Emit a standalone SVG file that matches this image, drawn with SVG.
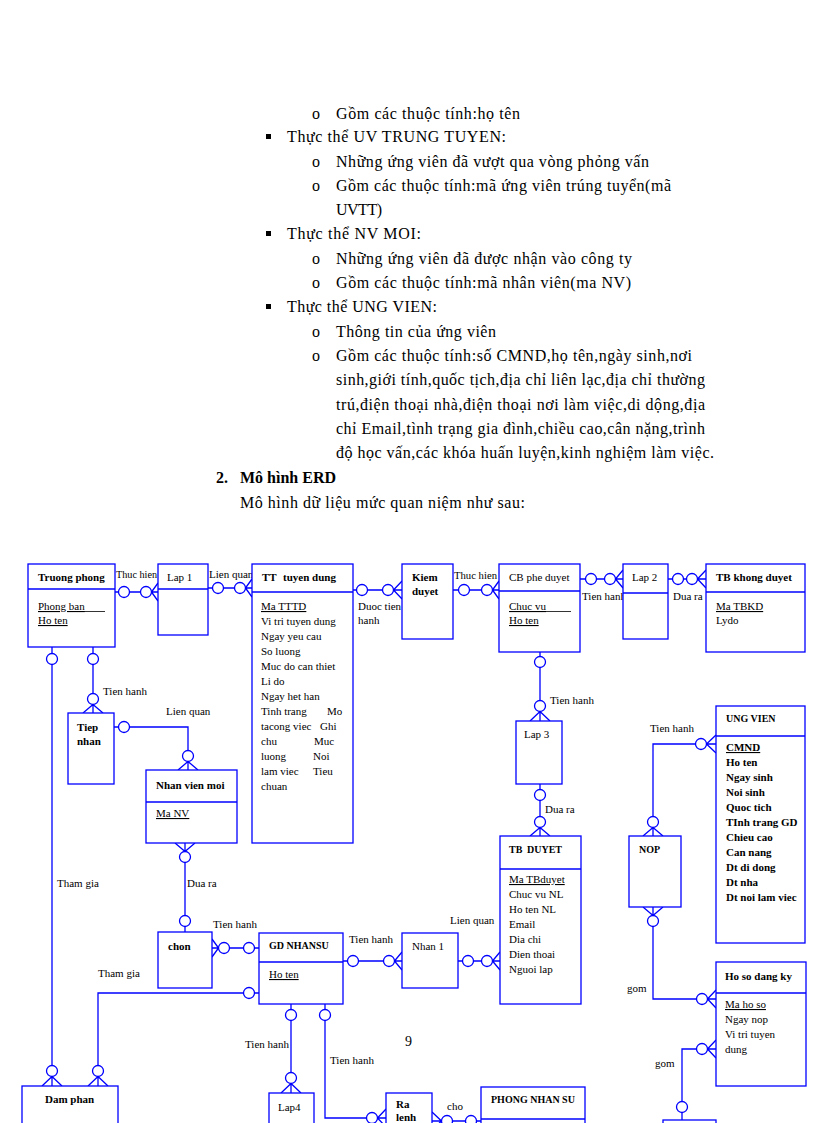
<svg xmlns="http://www.w3.org/2000/svg" width="816" height="1123" viewBox="0 0 816 1123">
<style>
.pt{font-family:"Liberation Serif","Times New Roman",serif;font-size:16px;fill:#000}
.t{font-family:"Liberation Serif","Times New Roman",serif;font-size:11px;fill:#000}
.b{font-weight:bold}
.s{font-size:10px}
.u{text-decoration:underline}
.e{fill:#fff;stroke:#0000ff;stroke-width:1.3}
.d{fill:none;stroke:#0000ff;stroke-width:1.3}
.l{fill:none;stroke:#0000ff;stroke-width:1.3}
.c{fill:#fff;stroke:#0000ff;stroke-width:1.3}
</style>
<rect width="816" height="1123" fill="#fff"/>
<g id="page-text">
<text class="pt" x="312" y="119">o</text>
<text class="pt" x="336" y="119" textLength="184" lengthAdjust="spacing">Gồm các thuộc tính:họ tên</text>
<rect x="266" y="134" width="5" height="5" fill="#000"/>
<text class="pt" x="287" y="142" textLength="219" lengthAdjust="spacing">Thực thể UV TRUNG TUYEN:</text>
<text class="pt" x="312" y="167">o</text>
<text class="pt" x="336" y="167" textLength="313" lengthAdjust="spacing">Những ứng viên đã vượt qua vòng phỏng vấn</text>
<text class="pt" x="312" y="191">o</text>
<text class="pt" x="336" y="191" textLength="335" lengthAdjust="spacing">Gồm các thuộc tính:mã ứng viên trúng tuyển(mã</text>
<text class="pt" x="336" y="215" textLength="46" lengthAdjust="spacing">UVTT)</text>
<rect x="266" y="231" width="5" height="5" fill="#000"/>
<text class="pt" x="287" y="239" textLength="134" lengthAdjust="spacing">Thực thể NV MOI:</text>
<text class="pt" x="312" y="264">o</text>
<text class="pt" x="336" y="264" textLength="296" lengthAdjust="spacing">Những ứng viên đã được nhận vào công ty</text>
<text class="pt" x="312" y="288">o</text>
<text class="pt" x="336" y="288" textLength="295" lengthAdjust="spacing">Gồm các thuộc tính:mã nhân viên(ma NV)</text>
<rect x="266" y="304" width="5" height="5" fill="#000"/>
<text class="pt" x="287" y="312" textLength="150" lengthAdjust="spacing">Thực thể UNG VIEN:</text>
<text class="pt" x="312" y="337">o</text>
<text class="pt" x="336" y="337" textLength="160" lengthAdjust="spacing">Thông tin của ứng viên</text>
<text class="pt" x="312" y="361">o</text>
<text class="pt" x="336" y="361" textLength="356" lengthAdjust="spacing">Gồm các thuộc tính:số CMND,họ tên,ngày sinh,nơi</text>
<text class="pt" x="336" y="385" textLength="369" lengthAdjust="spacing">sinh,giới tính,quốc tịch,địa chỉ liên lạc,địa chỉ thường</text>
<text class="pt" x="336" y="410" textLength="369" lengthAdjust="spacing">trú,điện thoại nhà,điện thoại nơi làm việc,di dộng,địa</text>
<text class="pt" x="336" y="434" textLength="369" lengthAdjust="spacing">chỉ Email,tình trạng gia đình,chiều cao,cân nặng,trình</text>
<text class="pt" x="336" y="458" textLength="378" lengthAdjust="spacing">độ học vấn,các khóa huấn luyện,kinh nghiệm làm việc.</text>
<text class="pt b" x="216" y="483">2.</text>
<text class="pt b" x="240" y="483">Mô hình ERD</text>
<text class="pt" x="240" y="508" textLength="285" lengthAdjust="spacing">Mô hình dữ liệu mức quan niệm như sau:</text>
<text class="pt" x="405" y="1046" style="font-size:14px">9</text>
</g>

<g id="connectors">
<!-- TP - Lap1 -->
<path class="l" d="M115,592H158M151.5,592L158,583M151.5,592L158,601"/>
<circle class="c" cx="124" cy="592" r="5.5"/><circle class="c" cx="146" cy="592" r="5.5"/>
<text class="t" x="116" y="578" textLength="41" lengthAdjust="spacingAndGlyphs">Thuc hien</text>
<!-- Lap1 - TT -->
<path class="l" d="M208,588H252M245.5,588L252,579M245.5,588L252,597"/>
<circle class="c" cx="218" cy="588" r="5.5"/><circle class="c" cx="240" cy="588" r="5.5"/>
<text class="t" x="209" y="578">Lien quan</text>
<!-- TT - Kiem duyet -->
<path class="l" d="M353,590H402M393.5,590L402,581M393.5,590L402,599"/>
<circle class="c" cx="362" cy="590" r="5.5"/><circle class="c" cx="388" cy="590" r="5.5"/>
<text class="t" x="358" y="610">Duoc tien</text>
<text class="t" x="358" y="624">hanh</text>
<!-- Kiem duyet - CB -->
<path class="l" d="M453,590H499M492.5,590L499,581M492.5,590L499,599"/>
<circle class="c" cx="464" cy="590" r="5.5"/><circle class="c" cx="487" cy="590" r="5.5"/>
<text class="t" x="454" y="579" textLength="43" lengthAdjust="spacingAndGlyphs">Thuc hien</text>
<!-- CB - Lap2 -->
<path class="l" d="M580,579H623M615.5,579L623,570M615.5,579L623,588"/>
<circle class="c" cx="591" cy="579" r="5.5"/><circle class="c" cx="610" cy="579" r="5.5"/>
<text class="t" x="582" y="600">Tien hanh</text>
<!-- Lap2 - TB khong duyet -->
<path class="l" d="M668,579H706M697.5,579L706,570M697.5,579L706,588"/>
<circle class="c" cx="678" cy="579" r="5.5"/><circle class="c" cx="692" cy="579" r="5.5"/>
<text class="t" x="673" y="600">Dua ra</text>
<!-- CB - Lap3 -->
<path class="l" d="M540,652V721M540,711.5L530,721M540,711.5L550,721"/>
<circle class="c" cx="540" cy="662" r="5.5"/><circle class="c" cx="540" cy="706" r="5.5"/>
<text class="t" x="550" y="704">Tien hanh</text>
<!-- Lap3 - TB DUYET -->
<path class="l" d="M540,784V836M540,827.5L530,836M540,827.5L550,836"/>
<circle class="c" cx="540" cy="795" r="5.5"/><circle class="c" cx="540" cy="822" r="5.5"/>
<text class="t" x="545" y="813">Dua ra</text>
<!-- UNG VIEN - NOP -->
<path class="l" d="M716,744H653V836M706.5,744L716,735M706.5,744L716,753M653,827.5L643,836M653,827.5L663,836"/>
<circle class="c" cx="701" cy="744" r="5.5"/><circle class="c" cx="653" cy="822" r="5.5"/>
<text class="t" x="650" y="732">Tien hanh</text>
<!-- NOP - Ho so -->
<path class="l" d="M653,907V999H716M653,915.5L643,907M653,915.5L663,907M707.5,999L716,990M707.5,999L716,1008"/>
<circle class="c" cx="653" cy="921" r="5.5"/><circle class="c" cx="702" cy="999" r="5.5"/>
<text class="t" x="627" y="992">gom</text>
<!-- Ho so - bottom entity -->
<path class="l" d="M716,1049H682V1123M707.5,1049L716,1040M707.5,1049L716,1058"/>
<circle class="c" cx="702" cy="1049" r="5.5"/><circle class="c" cx="682" cy="1107" r="5.5"/>
<text class="t" x="655" y="1067">gom</text>
<!-- TP - Tiep nhan -->
<path class="l" d="M93,647V713M93,704.5L83,713M93,704.5L103,713"/>
<circle class="c" cx="93" cy="659" r="5.5"/><circle class="c" cx="93" cy="699" r="5.5"/>
<text class="t" x="103" y="695">Tien hanh</text>
<!-- Tiep nhan - Nhan vien moi -->
<path class="l" d="M114,727H188V770M188,761.5L178,770M188,761.5L198,770"/>
<circle class="c" cx="124" cy="727" r="5.5"/><circle class="c" cx="188" cy="756" r="5.5"/>
<text class="t" x="166" y="715">Lien quan</text>
<!-- Nhan vien moi - chon -->
<path class="l" d="M185,843V932M185,851.5L175,843M185,851.5L195,843"/>
<circle class="c" cx="185" cy="857" r="5.5"/><circle class="c" cx="185" cy="921" r="5.5"/>
<text class="t" x="187" y="887">Dua ra</text>
<!-- chon - GD NHANSU -->
<path class="l" d="M212,948H259M218.5,948L212,939M218.5,948L212,957"/>
<circle class="c" cx="224" cy="948" r="5.5"/><circle class="c" cx="249" cy="948" r="5.5"/>
<text class="t" x="213" y="928">Tien hanh</text>
<!-- TP - Dam phan -->
<path class="l" d="M52,647V1086M52,1076.5L42,1086M52,1076.5L62,1086"/>
<circle class="c" cx="52" cy="659" r="5.5"/><circle class="c" cx="52" cy="1071" r="5.5"/>
<text class="t" x="57" y="887">Tham gia</text>
<!-- GD NHANSU - Dam phan -->
<path class="l" d="M259,993H98V1086M98,1076.5L88,1086M98,1076.5L108,1086"/>
<circle class="c" cx="249" cy="993" r="5.5"/><circle class="c" cx="98" cy="1071" r="5.5"/>
<text class="t" x="98" y="977">Tham gia</text>
<!-- GD NHANSU - Nhan 1 -->
<path class="l" d="M343,961H402M394.5,961L402,952M394.5,961L402,970"/>
<circle class="c" cx="353" cy="961" r="5.5"/><circle class="c" cx="389" cy="961" r="5.5"/>
<text class="t" x="349" y="943">Tien hanh</text>
<!-- Nhan 1 - TB DUYET -->
<path class="l" d="M458,961H500M492.5,961L500,952M492.5,961L500,970"/>
<circle class="c" cx="468" cy="961" r="5.5"/><circle class="c" cx="487" cy="961" r="5.5"/>
<text class="t" x="450" y="924">Lien quan</text>
<!-- GD NHANSU - Lap4 -->
<path class="l" d="M291,1004V1093M291,1083.5L281,1093M291,1083.5L301,1093"/>
<circle class="c" cx="291" cy="1015" r="5.5"/><circle class="c" cx="291" cy="1078" r="5.5"/>
<text class="t" x="245" y="1048">Tien hanh</text>
<!-- GD NHANSU - Ra lenh -->
<path class="l" d="M325,1004V1118H386M377.5,1118L386,1109M377.5,1118L386,1127"/>
<circle class="c" cx="325" cy="1015" r="5.5"/><circle class="c" cx="372" cy="1118" r="5.5"/>
<text class="t" x="330" y="1064">Tien hanh</text>
<!-- Ra lenh - PHONG NHAN SU -->
<path class="l" d="M432,1121H481M441.5,1121L432,1112M441.5,1121L432,1130"/>
<circle class="c" cx="447" cy="1121" r="5.5"/><circle class="c" cx="471" cy="1121" r="5.5"/>
<text class="t" x="447" y="1110">cho</text>
</g>

<g id="truong-phong">
<rect class="e" x="28" y="564" width="87" height="83"/>
<line class="d" x1="28" y1="589" x2="115" y2="589"/>
<text class="t b" x="38" y="581">Truong phong</text>
<text class="t u" x="38" y="610">Phong ban</text>
<line x1="80" y1="611.5" x2="105" y2="611.5" stroke="#000" stroke-width="0.8"/>
<text class="t u" x="38" y="624">Ho ten</text>
</g>
<g id="lap1">
<rect class="e" x="158" y="564" width="50" height="71"/>
<line class="d" x1="158" y1="589" x2="208" y2="589"/>
<text class="t" x="167" y="581">Lap 1</text>
</g>
<g id="tt-tuyen-dung">
<rect class="e" x="252" y="564" width="101" height="279"/>
<line class="d" x1="252" y1="592" x2="353" y2="592"/>
<text class="t b" x="262" y="581">TT</text>
<text class="t b" x="283" y="581">tuyen dung</text>
<text class="t u" x="261" y="610">Ma TTTD</text>
<text class="t" x="261" y="625">Vi tri tuyen dung</text>
<text class="t" x="261" y="640">Ngay yeu cau</text>
<text class="t" x="261" y="655">So luong</text>
<text class="t" x="261" y="670">Muc do can thiet</text>
<text class="t" x="261" y="685">Li do</text>
<text class="t" x="261" y="700">Ngay het han</text>
<text class="t" x="261" y="715">Tinh trang</text><text class="t" x="327" y="715">Mo</text>
<text class="t" x="261" y="730">tacong viec</text><text class="t" x="320" y="730">Ghi</text>
<text class="t" x="261" y="745">chu</text><text class="t" x="314" y="745">Muc</text>
<text class="t" x="261" y="760">luong</text><text class="t" x="313" y="760">Noi</text>
<text class="t" x="261" y="775">lam viec</text><text class="t" x="313" y="775">Tieu</text>
<text class="t" x="261" y="790">chuan</text>
</g>
<g id="kiem-duyet">
<rect class="e" x="402" y="564" width="51" height="75"/>
<text class="t b" x="412" y="581">Kiem</text>
<text class="t b" x="412" y="595">duyet</text>
</g>
<g id="cb-phe-duyet">
<rect class="e" x="499" y="564" width="81" height="88"/>
<line class="d" x1="499" y1="591" x2="580" y2="591"/>
<text class="t" x="509" y="581">CB phe duyet</text>
<text class="t u" x="509" y="610">Chuc vu</text>
<line x1="545" y1="611.5" x2="571" y2="611.5" stroke="#000" stroke-width="0.8"/>
<text class="t u" x="509" y="624">Ho ten</text>
</g>
<g id="lap2">
<rect class="e" x="623" y="564" width="45" height="75"/>
<line class="d" x1="623" y1="593" x2="668" y2="593"/>
<text class="t" x="632" y="581">Lap 2</text>
</g>
<g id="tb-khong-duyet">
<rect class="e" x="706" y="564" width="99" height="88"/>
<line class="d" x1="706" y1="592" x2="805" y2="592"/>
<text class="t b" x="716" y="581">TB khong duyet</text>
<text class="t u" x="716" y="610">Ma TBKD</text>
<text class="t" x="716" y="624">Lydo</text>
</g>
<g id="tiep-nhan">
<rect class="e" x="68" y="713" width="46" height="71"/>
<text class="t b" x="77" y="731">Tiep</text>
<text class="t b" x="77" y="745">nhan</text>
</g>
<g id="nhan-vien-moi">
<rect class="e" x="146" y="770" width="91" height="73"/>
<line class="d" x1="146" y1="802" x2="237" y2="802"/>
<text class="t b" x="156" y="789">Nhan vien moi</text>
<text class="t u" x="156" y="817">Ma NV</text>
</g>
<g id="lap3">
<rect class="e" x="516" y="721" width="46" height="63"/>
<text class="t" x="524" y="738">Lap 3</text>
</g>
<g id="ung-vien">
<rect class="e" x="716" y="706" width="89" height="237"/>
<line class="d" x1="716" y1="736" x2="805" y2="736"/>
<text class="t b s" x="726" y="722">UNG VIEN</text>
<text class="t b u" x="726" y="751">CMND</text>
<text class="t b" x="726" y="766">Ho ten</text>
<text class="t b" x="726" y="781">Ngay sinh</text>
<text class="t b" x="726" y="796">Noi sinh</text>
<text class="t b" x="726" y="811">Quoc tich</text>
<text class="t b" x="726" y="826">TInh trang GD</text>
<text class="t b" x="726" y="841">Chieu cao</text>
<text class="t b" x="726" y="856">Can nang</text>
<text class="t b" x="726" y="871">Dt di dong</text>
<text class="t b" x="726" y="886">Dt nha</text>
<text class="t b" x="726" y="901">Dt noi lam viec</text>
</g>
<g id="nop">
<rect class="e" x="629" y="836" width="52" height="71"/>
<text class="t b s" x="639" y="853">NOP</text>
</g>
<g id="tb-duyet">
<rect class="e" x="500" y="836" width="81" height="168"/>
<line class="d" x1="500" y1="869" x2="581" y2="869"/>
<text class="t b s" x="509" y="853">TB</text>
<text class="t b s" x="527" y="853">DUYET</text>
<text class="t u" x="509" y="883">Ma TBduyet</text>
<text class="t" x="509" y="898">Chuc vu NL</text>
<text class="t" x="509" y="913">Ho ten NL</text>
<text class="t" x="509" y="928">Email</text>
<text class="t" x="509" y="943">Dia chi</text>
<text class="t" x="509" y="958">Dien thoai</text>
<text class="t" x="509" y="973">Nguoi lap</text>
</g>
<g id="chon">
<rect class="e" x="158" y="932" width="54" height="56"/>
<text class="t b" x="168" y="950">chon</text>
</g>
<g id="gd-nhansu">
<rect class="e" x="259" y="933" width="84" height="71"/>
<line class="d" x1="259" y1="962" x2="343" y2="962"/>
<text class="t b s" x="269" y="949">GD NHANSU</text>
<text class="t u" x="269" y="978">Ho ten</text>
</g>
<g id="nhan1">
<rect class="e" x="402" y="933" width="56" height="55"/>
<text class="t" x="412" y="950">Nhan 1</text>
</g>
<g id="ho-so-dang-ky">
<rect class="e" x="716" y="962" width="90" height="124"/>
<line class="d" x1="716" y1="993" x2="806" y2="993"/>
<text class="t b" x="725" y="980">Ho so dang ky</text>
<text class="t u" x="725" y="1008">Ma ho so</text>
<text class="t" x="725" y="1023">Ngay nop</text>
<text class="t" x="725" y="1038">Vi tri tuyen</text>
<text class="t" x="725" y="1053">dung</text>
</g>
<g id="dam-phan">
<rect class="e" x="22" y="1086" width="96" height="50"/>
<text class="t b" x="45" y="1103">Dam phan</text>
</g>
<g id="lap4">
<rect class="e" x="269" y="1093" width="45" height="40"/>
<text class="t" x="278" y="1111">Lap4</text>
</g>
<g id="ra-lenh">
<rect class="e" x="386" y="1093" width="46" height="40"/>
<text class="t b" x="396" y="1108">Ra</text>
<text class="t b" x="396" y="1121">lenh</text>
</g>
<g id="phong-nhan-su">
<rect class="e" x="481" y="1087" width="104" height="45"/>
<line class="d" x1="481" y1="1119" x2="585" y2="1119"/>
<text class="t b s" x="491" y="1103">PHONG NHAN SU</text>
</g>
<g id="bottom-entity">
<rect class="e" x="663" y="1120" width="53" height="12"/>
</g>
</svg>
